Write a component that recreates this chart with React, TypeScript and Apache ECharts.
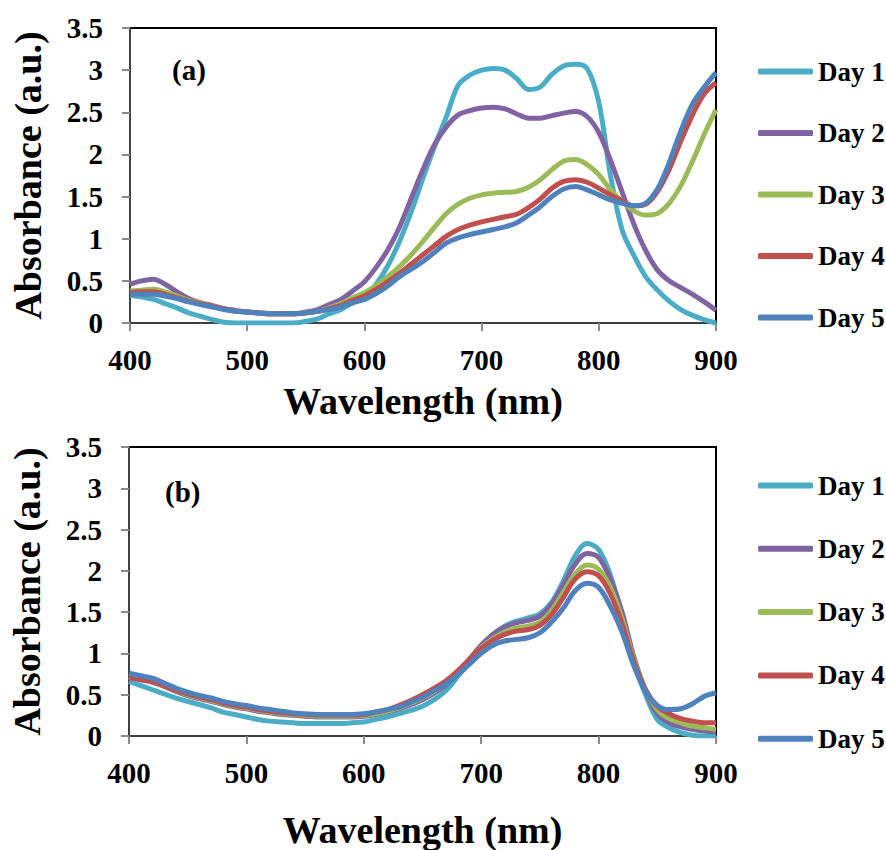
import React, { useEffect, useRef } from "react";
import * as echarts from "echarts";

const wavelengths = [
  400, 410, 420, 430, 440, 450, 460, 470, 480, 490,
  500, 510, 520, 530, 540, 550, 560, 570, 580, 590,
  600, 610, 620, 630, 640, 650, 660, 670, 680, 690,
  700, 710, 720, 730, 740, 750, 760, 770, 780, 790,
  800, 810, 820, 830, 840, 850, 860, 870, 880, 890, 900,
];

const dayNames = ["Day 1", "Day 2", "Day 3", "Day 4", "Day 5"];
const dayColors = ["#4BACC6", "#8064A2", "#9BBB59", "#C0504D", "#4F81BD"];
const xTicks = [400, 500, 600, 700, 800, 900];
const yTicks = [0, 0.5, 1, 1.5, 2, 2.5, 3, 3.5];

// Panel (a)
const a_day1 = [
  0.33, 0.31, 0.28, 0.23, 0.18, 0.12, 0.08, 0.04, 0.01, 0.0,
  0.0, 0.0, 0.0, 0.0, 0.0, 0.02, 0.05, 0.11, 0.16, 0.24,
  0.30, 0.46, 0.68, 0.97, 1.32, 1.72, 2.1, 2.45, 2.82, 2.94,
  3.0, 3.02, 3.0, 2.9, 2.77, 2.8, 2.95, 3.05, 3.07, 3.02,
  2.62, 1.75, 1.1, 0.8, 0.55, 0.39, 0.26, 0.16, 0.09, 0.04, 0.0,
];
const a_day2 = [
  0.46, 0.50, 0.52, 0.46, 0.37, 0.29, 0.24, 0.21, 0.17, 0.15,
  0.13, 0.12, 0.11, 0.11, 0.11, 0.13, 0.16, 0.22, 0.28, 0.38,
  0.49, 0.66, 0.87, 1.14, 1.48, 1.82, 2.12, 2.33, 2.47, 2.52,
  2.55, 2.56, 2.54, 2.48, 2.43, 2.43, 2.46, 2.49, 2.51, 2.45,
  2.26, 1.93, 1.55, 1.17, 0.86, 0.63, 0.5, 0.42, 0.34, 0.25, 0.15,
];
const a_day3 = [
  0.38, 0.39, 0.40, 0.37, 0.32, 0.27, 0.24, 0.2, 0.17, 0.14,
  0.13, 0.12, 0.11, 0.11, 0.11, 0.12, 0.14, 0.18, 0.23, 0.3,
  0.36, 0.44, 0.55, 0.67, 0.81, 0.97, 1.14, 1.3, 1.41, 1.48,
  1.52, 1.54, 1.55, 1.56, 1.61, 1.7, 1.82, 1.92, 1.94, 1.88,
  1.76, 1.58, 1.44, 1.33, 1.28, 1.3, 1.42, 1.63, 1.92, 2.24, 2.53,
];
const a_day4 = [
  0.36, 0.37, 0.37, 0.34, 0.3, 0.26, 0.23, 0.2, 0.17, 0.14,
  0.13, 0.12, 0.11, 0.11, 0.11, 0.12, 0.14, 0.17, 0.21, 0.27,
  0.32, 0.4, 0.49, 0.59, 0.7, 0.81, 0.92, 1.03, 1.11, 1.16,
  1.2, 1.23, 1.26, 1.29, 1.37, 1.47, 1.6, 1.68, 1.7, 1.67,
  1.6, 1.52, 1.45, 1.39, 1.41, 1.56, 1.82, 2.16, 2.47, 2.72, 2.85,
];
const a_day5 = [
  0.34, 0.34, 0.34, 0.32, 0.29, 0.25, 0.22, 0.19, 0.16, 0.14,
  0.13, 0.12, 0.11, 0.11, 0.11, 0.12, 0.14, 0.16, 0.19, 0.24,
  0.28, 0.35, 0.44, 0.55, 0.64, 0.73, 0.84, 0.95, 1.01, 1.05,
  1.08, 1.11, 1.14, 1.19, 1.28, 1.38, 1.5, 1.59, 1.62, 1.58,
  1.52, 1.46, 1.42, 1.39, 1.42, 1.59, 1.9, 2.28, 2.6, 2.8, 2.97,
];

// Panel (b)
const b_day1 = [
  0.66, 0.61, 0.56, 0.51, 0.46, 0.42, 0.38, 0.34, 0.29, 0.26,
  0.23, 0.2, 0.18, 0.17, 0.16, 0.15, 0.15, 0.15, 0.15, 0.16,
  0.17, 0.2, 0.23, 0.27, 0.31, 0.36, 0.44, 0.55, 0.72, 0.91,
  1.09, 1.23, 1.33, 1.39, 1.43, 1.48, 1.62, 1.88, 2.18, 2.33,
  2.26, 1.95, 1.46, 0.9, 0.5, 0.2, 0.1, 0.04, 0.01, 0.0, 0.0,
];
const b_day2 = [
  0.71, 0.68, 0.65, 0.6, 0.54, 0.49, 0.45, 0.42, 0.38, 0.35,
  0.33, 0.3, 0.28, 0.26, 0.25, 0.24, 0.23, 0.23, 0.23, 0.23,
  0.24, 0.26, 0.29, 0.33, 0.38, 0.44, 0.52, 0.62, 0.76, 0.93,
  1.1, 1.23, 1.32, 1.37, 1.4, 1.45, 1.6, 1.83, 2.08, 2.21,
  2.16, 1.9, 1.5, 0.96, 0.55, 0.27, 0.16, 0.11, 0.08, 0.06, 0.05,
];
const b_day3 = [
  0.72, 0.69, 0.66, 0.61, 0.55, 0.5, 0.46, 0.43, 0.39, 0.36,
  0.34, 0.31, 0.29, 0.27, 0.26, 0.25, 0.24, 0.24, 0.24, 0.24,
  0.25, 0.27, 0.3, 0.34, 0.4, 0.46, 0.54, 0.64, 0.77, 0.92,
  1.07, 1.18, 1.26, 1.31, 1.33, 1.38, 1.52, 1.74, 1.96, 2.07,
  2.02, 1.8, 1.42, 0.93, 0.56, 0.32, 0.21, 0.16, 0.12, 0.1, 0.08,
];
const b_day4 = [
  0.71, 0.68, 0.66, 0.61, 0.55, 0.51, 0.47, 0.44, 0.4, 0.37,
  0.35, 0.32, 0.3, 0.28, 0.27, 0.26, 0.25, 0.25, 0.25, 0.25,
  0.26, 0.29, 0.32, 0.37, 0.43, 0.5, 0.58, 0.67, 0.79, 0.93,
  1.06, 1.16, 1.23, 1.27, 1.29, 1.34, 1.47, 1.68, 1.9, 1.99,
  1.94, 1.72, 1.36, 0.9, 0.56, 0.36, 0.27, 0.21, 0.18, 0.16, 0.16,
];
const b_day5 = [
  0.76, 0.73, 0.7, 0.64, 0.58, 0.53, 0.49, 0.46, 0.42, 0.39,
  0.37, 0.34, 0.32, 0.3, 0.28, 0.27, 0.26, 0.26, 0.26, 0.26,
  0.27, 0.29, 0.32, 0.35, 0.41, 0.47, 0.55, 0.63, 0.74, 0.87,
  1.0, 1.1, 1.15, 1.17, 1.19, 1.25, 1.38, 1.55, 1.76, 1.85,
  1.8, 1.57, 1.26, 0.85, 0.54, 0.37, 0.32, 0.33, 0.39, 0.48, 0.52,
];

const panelA = [a_day1, a_day2, a_day3, a_day4, a_day5];
const panelB = [b_day1, b_day2, b_day3, b_day4, b_day5];
const panelLabels = ["(a)", "(b)"];

const FONT = "'Liberation Serif', 'Times New Roman', serif";

export default function App() {
  const ref = useRef<HTMLDivElement>(null);
  useEffect(() => {
    if (!ref.current) return;
    const chart = echarts.init(ref.current, null, { renderer: "svg" });

    const grids = [
      { left: 130, top: 28, width: 586, height: 295 },
      { left: 129, top: 447, width: 587, height: 294 },
    ];
    const nameGaps = [59, 75];

    const xAxes = grids.map((_, i) => ({
      type: "value",
      gridIndex: i,
      min: xTicks[0],
      max: xTicks[xTicks.length - 1],
      interval: 100,
      name: "Wavelength (nm)",
      nameLocation: "middle",
      nameGap: nameGaps[i],
      nameTextStyle: { fontFamily: FONT, fontWeight: "bold", fontSize: 38, color: "#000" },
      axisLine: { show: true, onZero: false, lineStyle: { color: "#404040", width: 2 } },
      axisTick: { show: true, length: 8, lineStyle: { color: "#8a8a8a", width: 2 } },
      axisLabel: { fontFamily: FONT, fontWeight: "bold", fontSize: 29, color: "#000", margin: 22 },
      splitLine: { show: false },
    }));
    const yAxes = grids.map((_, i) => ({
      type: "value",
      gridIndex: i,
      min: yTicks[0],
      max: yTicks[yTicks.length - 1],
      interval: 0.5,
      name: "Absorbance (a.u.)",
      nameLocation: "middle",
      nameGap: 83,
      nameTextStyle: { fontFamily: FONT, fontWeight: "bold", fontSize: 38, color: "#000" },
      axisLine: { show: true, onZero: false, lineStyle: { color: "#404040", width: 2 } },
      axisTick: { show: true, length: 8, lineStyle: { color: "#8a8a8a", width: 2 } },
      axisLabel: { fontFamily: FONT, fontWeight: "bold", fontSize: 29, color: "#000", margin: 27 },
      splitLine: { show: false },
    }));

    const series: any[] = [];
    [panelA, panelB].forEach((panel, p) => {
      panel.forEach((vals, d) => {
        series.push({
          type: "line",
          name: dayNames[d],
          xAxisIndex: p,
          yAxisIndex: p,
          data: wavelengths.map((w, k) => [w, vals[k]]),
          smooth: 0.35,
          symbol: "none",
          lineStyle: { color: dayColors[d], width: 5 },
          itemStyle: { color: dayColors[d] },
          z: 2 + d,
        });
      });
    });

    const legendTops = [58, 472];
    const legendGaps = [34.5, 36.3];
    const legends = legendTops.map((t, i) => ({
      orient: "vertical",
      left: 758,
      top: t,
      padding: 0,
      icon: "roundRect",
      itemWidth: 55,
      itemHeight: 6,
      itemGap: legendGaps[i],
      data: dayNames,
      selectedMode: false,
      textStyle: { fontFamily: FONT, fontWeight: "bold", fontSize: 27, color: "#000", lineHeight: 25 },
    }));

    chart.setOption({
      animation: false,
      backgroundColor: "#fff",
      grid: grids.map((g) => ({ ...g, show: true, borderColor: "#000", borderWidth: 2, backgroundColor: "transparent" })),
      xAxis: xAxes,
      yAxis: yAxes,
      legend: legends,
      series,
      graphic: [
        {
          type: "text",
          left: 172,
          top: 55,
          style: { text: panelLabels[0], font: `bold 29px ${FONT}`, fill: "#000" },
        },
        {
          type: "text",
          left: 165,
          top: 477,
          style: { text: panelLabels[1], font: `bold 29px ${FONT}`, fill: "#000" },
        },
      ],
    });
    return () => chart.dispose();
  }, []);
  return (
    <div
      ref={ref}
      style={{ position: "fixed", left: 0, top: 0, width: 886, height: 850, background: "#fff" }}
    />
  );
}
